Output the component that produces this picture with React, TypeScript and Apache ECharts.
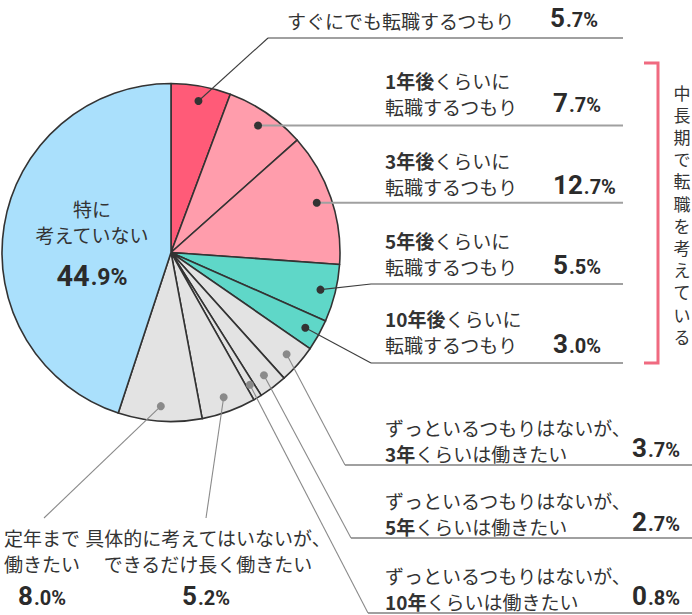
import { useEffect, useRef } from 'react';
import * as echarts from 'echarts';

// Answer categories, clockwise from 12 o'clock
const categories = [
  'すぐにでも転職するつもり',
  '1年後くらいに転職するつもり',
  '3年後くらいに転職するつもり',
  '5年後くらいに転職するつもり',
  '10年後くらいに転職するつもり',
  'ずっといるつもりはないが、3年くらいは働きたい',
  'ずっといるつもりはないが、5年くらいは働きたい',
  'ずっといるつもりはないが、10年くらいは働きたい',
  '具体的に考えてはいないが、できるだけ長く働きたい',
  '定年まで働きたい',
  '特に考えていない',
];

// Share of respondents (%)
const values = [5.7, 7.7, 12.7, 5.5, 3.0, 3.7, 2.7, 0.8, 5.2, 8.0, 44.9];

// Label lines shown next to each slice ({b|...} = bold part)
const labelLines = [
  ['すぐにでも転職するつもり'],
  ['{b|1年後}くらいに', '転職するつもり'],
  ['{b|3年後}くらいに', '転職するつもり'],
  ['{b|5年後}くらいに', '転職するつもり'],
  ['{b|10年後}くらいに', '転職するつもり'],
  ['ずっといるつもりはないが、', '{b|3年}くらいは働きたい'],
  ['ずっといるつもりはないが、', '{b|5年}くらいは働きたい'],
  ['ずっといるつもりはないが、', '{b|10年}くらいは働きたい'],
  ['具体的に考えてはいないが、', 'できるだけ長く働きたい'],
  ['定年まで', '働きたい'],
  ['特に', '考えていない'],
];

const groupLabel = '中長期で転職を考えている';

const RED = '#ff5b78';
const PINK = '#ff9dac';
const TEAL = '#5fd7c8';
const GRAY = '#e3e3e3';
const BLUE = '#aae0fc';
const sliceColors = [RED, PINK, PINK, TEAL, TEAL, GRAY, GRAY, GRAY, GRAY, GRAY, BLUE];

// Pie geometry (px)
const CX = 171;
const CY = 252.5;
const RADIUS = 169;
const DOT_R = 154;

type Align = 'left' | 'center';
interface Callout {
  tx: number; ty: number; talign: Align; // first text line centre
  px: number; py: number; palign: Align; // percentage baseline
  elbow?: [number, number]; // where the leader meets the underline / ends
  hlineTo?: number; // underline end x (horizontal from elbow or dot)
  muted: boolean;
}

const callouts: Callout[] = [
  { tx: 287, ty: 20, talign: 'left', px: 550, py: 27, palign: 'left', elbow: [268, 38], hlineTo: 623, muted: false },
  { tx: 385, ty: 80, talign: 'left', px: 553, py: 112, palign: 'left', hlineTo: 623, muted: false },
  { tx: 385, ty: 160, talign: 'left', px: 553, py: 194, palign: 'left', hlineTo: 623, muted: false },
  { tx: 385, ty: 240, talign: 'left', px: 553, py: 274, palign: 'left', elbow: [371, 284], hlineTo: 623, muted: false },
  { tx: 385, ty: 318, talign: 'left', px: 553, py: 353, palign: 'left', elbow: [371, 363], hlineTo: 623, muted: false },
  { tx: 385, ty: 427, talign: 'left', px: 632, py: 457, palign: 'left', elbow: [345, 465], hlineTo: 692, muted: true },
  { tx: 385, ty: 500, talign: 'left', px: 632, py: 531, palign: 'left', elbow: [351, 538], hlineTo: 692, muted: true },
  { tx: 385, ty: 575, talign: 'left', px: 632, py: 605, palign: 'left', elbow: [368, 613], hlineTo: 692, muted: true },
  { tx: 208, ty: 537, talign: 'center', px: 206, py: 605, palign: 'center', elbow: [206, 518], muted: true },
  { tx: 4, ty: 537, talign: 'left', px: 18, py: 605, palign: 'left', elbow: [44, 518], muted: true },
];

const TEXT_COLOR = '#333333';
const LABEL_FONT = '"Noto Sans CJK JP", "Noto Sans", sans-serif';
const NUM_FONT = 'Roboto, "Noto Sans", sans-serif';
const LABEL_SIZE = 19;

const pctText = (v: number) => {
  const [i, d] = v.toFixed(1).split('.');
  return `{big|${i}}{small|.${d}%}`;
};

const pctRich = (big: number, small: number) => ({
  big: { fontFamily: NUM_FONT, fontWeight: 'bold', fontSize: big, lineHeight: big, verticalAlign: 'bottom', fill: '#2b2b2b' },
  small: { fontFamily: NUM_FONT, fontWeight: 'bold', fontSize: small, lineHeight: small, verticalAlign: 'bottom', fill: '#2b2b2b', padding: [0, 0, 1, 1] },
});

const labelRich = {
  b: { fontFamily: LABEL_FONT, fontWeight: 'bold', fontSize: LABEL_SIZE, lineHeight: 26, fill: TEXT_COLOR },
};

export default function App() {
  const ref = useRef<HTMLDivElement>(null);

  useEffect(() => {
    if (!ref.current) return;
    const chart = echarts.init(ref.current, undefined, { renderer: 'svg' });

    const total = values.reduce((a, b) => a + b, 0);
    const elements: any[] = [];
    let cum = 0;

    values.forEach((v, i) => {
      const mid = ((cum + v / 2) / total) * Math.PI * 2;
      cum += v;
      const dx = CX + DOT_R * Math.sin(mid);
      const dy = CY - DOT_R * Math.cos(mid);
      const lines = labelLines[i];

      if (i === values.length - 1) {
        // label inside the largest slice
        elements.push({
          type: 'text', z: 100,
          style: {
            x: 92, y: 195, text: lines.join('\n'), textAlign: 'center', textVerticalAlign: 'top',
            font: `${LABEL_SIZE}px ${LABEL_FONT}`, lineHeight: 26, fill: TEXT_COLOR,
          },
        });
        elements.push({
          type: 'text', z: 100,
          style: {
            x: 92, y: 290, text: pctText(v), textAlign: 'center', textVerticalAlign: 'bottom',
            rich: pctRich(29, 23),
          },
        });
        return;
      }

      const c = callouts[i];
      const leadColor = c.muted ? '#8a8a8a' : '#3d3d3d';
      const dotColor = c.muted ? '#8a8a8a' : '#333333';

      // underline
      if (c.hlineTo !== undefined) {
        const start: [number, number] = c.elbow ? c.elbow : [dx, dy];
        elements.push({
          type: 'line', z: 99,
          shape: { x1: start[0], y1: start[1], x2: c.hlineTo, y2: start[1] },
          style: { stroke: '#a0a0a0', lineWidth: 2 },
        });
      }
      // leader from dot
      if (c.elbow) {
        elements.push({
          type: 'line', z: 100,
          shape: { x1: dx, y1: dy, x2: c.elbow[0], y2: c.elbow[1] },
          style: { stroke: leadColor, lineWidth: 1.1 },
        });
      }
      elements.push({
        type: 'circle', z: 101,
        shape: { cx: dx, cy: dy, r: 4 },
        style: { fill: dotColor },
      });

      // label text
      elements.push({
        type: 'text', z: 100,
        style: {
          x: c.tx, y: c.ty - 13, text: lines.join('\n'), textAlign: c.talign, textVerticalAlign: 'top',
          font: `${LABEL_SIZE}px ${LABEL_FONT}`, lineHeight: 26, fill: TEXT_COLOR, rich: labelRich,
        },
      });
      // percentage
      elements.push({
        type: 'text', z: 100,
        style: {
          x: c.px, y: c.py + 4, text: pctText(v), textAlign: c.palign, textVerticalAlign: 'bottom',
          rich: pctRich(26, 20),
        },
      });
    });

    // bracket grouping the mid/long-term answers
    elements.push({
      type: 'polyline', z: 100,
      shape: { points: [[644, 63], [658, 63], [658, 363], [644, 363]] },
      style: { stroke: '#f06a80', lineWidth: 3, fill: null },
    });
    elements.push({
      type: 'text', z: 100,
      style: {
        x: 682, y: 81, text: groupLabel.split('').join('\n'), textAlign: 'center', textVerticalAlign: 'top',
        font: `17px ${LABEL_FONT}`, lineHeight: 22.2, fill: TEXT_COLOR,
      },
    });

    chart.setOption({
      animation: false,
      series: [
        {
          type: 'pie',
          center: [CX, CY],
          radius: RADIUS,
          startAngle: 90,
          clockwise: true,
          silent: true,
          label: { show: false },
          labelLine: { show: false },
          itemStyle: { borderColor: '#333333', borderWidth: 1.6 },
          emphasis: { disabled: true },
          data: categories.map((name, i) => ({
            name,
            value: values[i],
            itemStyle: { color: sliceColors[i] },
          })),
        },
      ],
      graphic: elements,
    });

    return () => chart.dispose();
  }, []);

  return (
    <div
      ref={ref}
      style={{ position: 'absolute', left: 0, top: 0, width: 692, height: 615, background: '#ffffff' }}
    />
  );
}
